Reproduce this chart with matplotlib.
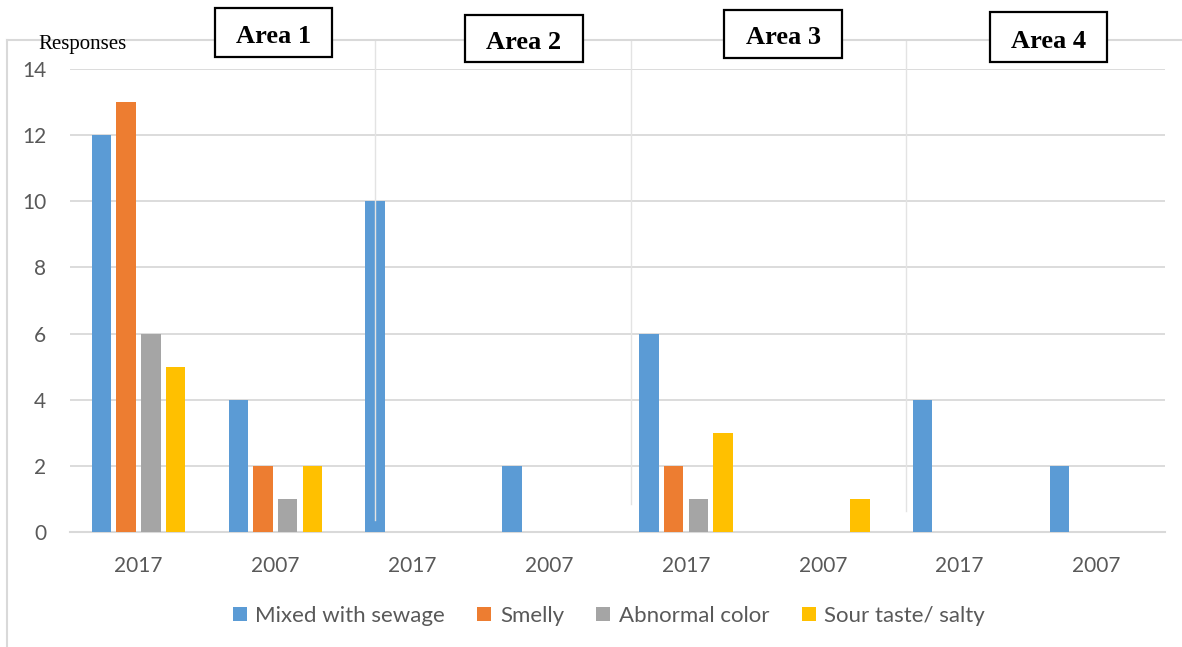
import numpy as np
import matplotlib.pyplot as plt
from matplotlib.patches import Rectangle
from matplotlib.lines import Line2D

# --- datos ---
grupos = ['2017', '2007', '2017', '2007', '2017', '2007', '2017', '2007']
areas = ['Area 1', 'Area 2', 'Area 3', 'Area 4']
series = ['Mixed with sewage', 'Smelly', 'Abnormal color', 'Sour taste/ salty']
mixed = [12, 4, 10, 2, 6, 0, 4, 2]
smelly = [13, 2, 0, 0, 2, 0, 0, 0]
abnormal = [6, 1, 0, 0, 1, 0, 0, 0]
sour = [5, 2, 0, 0, 3, 1, 0, 0]
yticks = [0, 2, 4, 6, 8, 10, 12, 14]

colores = ['#5B9BD5', '#ED7D31', '#A5A5A5', '#FFC000']
gris_texto = '#595959'
gris_linea = '#D9D9D9'

W, H = 1182, 647
fig = plt.figure(figsize=(W / 100, H / 100), dpi=100)
ax = fig.add_axes([70 / W, 1 - 532 / H, 1095 / W, 463 / H])

x = np.arange(len(grupos))
paso = 0.1805
ancho = 0.142
for i, (vals, nombre) in enumerate(zip([mixed, smelly, abnormal, sour], series)):
    ax.bar(x + (i - 1.5) * paso, vals, ancho, color=colores[i], label=nombre,
           edgecolor='none', zorder=3)

ax.set_xlim(-0.5, len(grupos) - 0.5)
ax.set_ylim(0, 14)
ax.set_yticks(yticks)
ax.set_xticks(x)
ax.set_xticklabels(grupos)
ax.grid(axis='y', color=gris_linea, linewidth=1.3, zorder=0)
for lado in ['left', 'right', 'top']:
    ax.spines[lado].set_visible(False)
ax.spines['bottom'].set_color(gris_linea)
ax.spines['bottom'].set_linewidth(1.5)
ax.tick_params(axis='both', length=0, colors=gris_texto, labelsize=15)
ax.tick_params(axis='y', pad=17)
ax.tick_params(axis='x', pad=17)
for lab in ax.get_xticklabels() + ax.get_yticklabels():
    lab.set_fontfamily('Lato')

# separadores verticales entre zonas
for xs, yb in [(1.728, 0.36), (3.60, 0.85), (5.605, 0.64)]:
    ax.plot([xs, xs], [yb, 14.88], color='#E3E3E3', linewidth=1.0,
            clip_on=False, zorder=4)

# marco exterior del grafico
fig.add_artist(Line2D([7 / W, 7 / W], [0, 1 - 40 / H], color=gris_linea, linewidth=1.5))
fig.add_artist(Line2D([7 / W, 1], [1 - 40 / H, 1 - 40 / H], color=gris_linea, linewidth=1.5))

# titulo del eje
fig.text(38 / W, 1 - 44 / H, 'Responses', family='Liberation Serif', fontsize=15,
         va='center', ha='left', color='black')

# recuadros de las areas
cajas = [(215, 8, 332, 57), (465, 15, 583, 62), (724, 10, 842, 58), (990, 12, 1107, 62)]
for nombre, (x0, y0, x1, y1) in zip(areas, cajas):
    fig.add_artist(Rectangle((x0 / W, 1 - y1 / H), (x1 - x0) / W, (y1 - y0) / H,
                             facecolor='white', edgecolor='black', linewidth=1.6,
                             transform=fig.transFigure, zorder=5))
    fig.text((x0 + x1) / 2 / W, 1 - ((y0 + y1) / 2 + 4) / H, nombre,
             family='Liberation Serif', fontweight='bold', fontsize=19,
             ha='center', va='center', zorder=6)

# leyenda
leg = fig.legend(loc='center', bbox_to_anchor=(609 / W, 1 - 616 / H), ncol=4, frameon=False,
                 handlelength=0.62, handleheight=0.62, handletextpad=0.4, columnspacing=1.45,
                 prop={'family': 'Lato', 'size': 16})
for t in leg.get_texts():
    t.set_color(gris_texto)

fig.savefig('out.png', dpi=100, facecolor='white')
